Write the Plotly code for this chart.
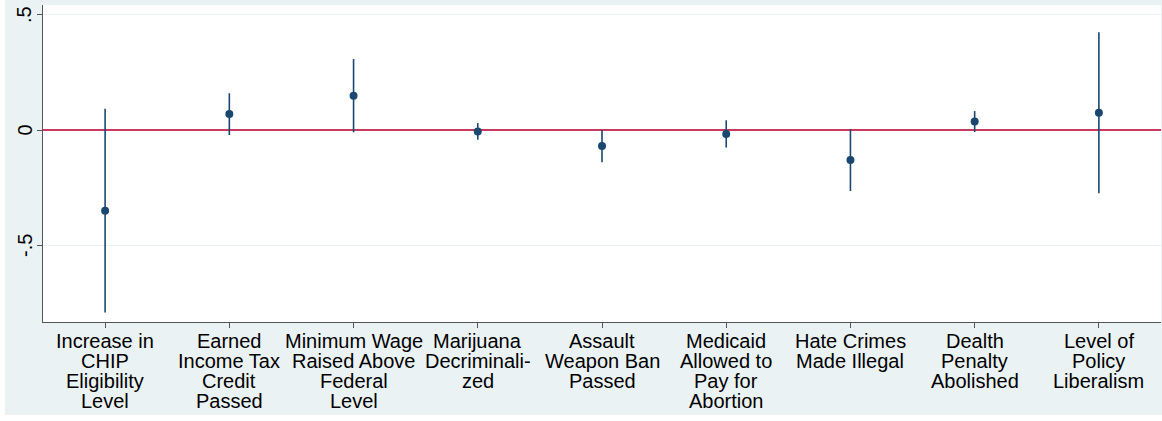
import plotly.graph_objects as go

# Policy outcomes (x categories) and estimated effects with 95% CIs
categories = [
    "Increase in\nCHIP\nEligibility\nLevel",
    "Earned\nIncome Tax\nCredit\nPassed",
    "Minimum Wage\nRaised Above\nFederal\nLevel",
    "Marijuana\nDecriminali-\nzed",
    "Assault\nWeapon Ban\nPassed",
    "Medicaid\nAllowed to\nPay for\nAbortion",
    "Hate Crimes\nMade Illegal",
    "Dealth\nPenalty\nAbolished",
    "Level of\nPolicy\nLiberalism",
]
positions = [1, 2, 3, 4, 5, 6, 7, 8, 9]
estimate = [-0.35, 0.069, 0.148, -0.006, -0.069, -0.017, -0.13, 0.037, 0.075]
ci_low = [-0.79, -0.022, -0.01, -0.042, -0.14, -0.076, -0.264, -0.009, -0.274]
ci_high = [0.092, 0.159, 0.307, 0.03, 0.0, 0.042, 0.002, 0.082, 0.423]

y_tickvals = [-0.5, 0, 0.5]
y_ticktext = ["-.5", "0", ".5"]

navy = "#1a476f"
bg = "#eaf2f3"
font = "Liberation Sans, Arial, Helvetica, sans-serif"

err_plus = [h - e for h, e in zip(ci_high, estimate)]
err_minus = [e - l for e, l in zip(estimate, ci_low)]

fig = go.Figure()
fig.add_trace(go.Scatter(
    x=positions, y=estimate, mode="markers",
    marker=dict(color=navy, size=8),
    error_y=dict(type="data", symmetric=False, array=err_plus,
                 arrayminus=err_minus, color=navy, thickness=1.6, width=0),
    showlegend=False,
))

W, H = 1162, 421
L, R, T, B = 43, 1, 5, 99
pw, ph = W - L - R, H - T - B

def px_x(v):
    return (v - L) / pw

def px_y(v):
    return (H - B - v) / ph

# thin white frame outside the shaded background (left and bottom)
fig.add_shape(type="rect", xref="paper", yref="paper", layer="below",
              x0=px_x(-2), x1=px_x(5), y0=px_y(-2), y1=px_y(H + 2),
              fillcolor="white", line=dict(width=0))
fig.add_shape(type="rect", xref="paper", yref="paper", layer="below",
              x0=px_x(-2), x1=px_x(W + 2), y0=px_y(415), y1=px_y(H + 2),
              fillcolor="white", line=dict(width=0))

# multi-line category labels under each tick, with tight line spacing
first_line_mid, line_step = 340.5, 20.3
for pos, label in zip(positions, categories):
    for j, line in enumerate(label.split("\n")):
        fig.add_annotation(
            x=pos, xref="x", y=px_y(first_line_mid + line_step * j), yref="paper",
            text=line, showarrow=False, xanchor="center", yanchor="middle",
            font=dict(family=font, size=20, color="black"),
        )

# vertical y tick labels set close to the tick marks
for val, txt in zip(y_tickvals, y_ticktext):
    fig.add_annotation(
        x=px_x(24.5), xref="paper", y=val, yref="y", text=txt,
        textangle=-90, showarrow=False, xanchor="center", yanchor="middle",
        font=dict(family=font, size=20, color="black"),
    )

fig.update_layout(
    width=W, height=H,
    margin=dict(l=L, r=R, t=T, b=B),
    paper_bgcolor=bg, plot_bgcolor="white",
    font=dict(family=font, size=20, color="black"),
)
fig.update_xaxes(
    range=[0.5, 9.5], tickvals=positions, showticklabels=False,
    ticks="outside", ticklen=5, tickcolor="#555", automargin=False,
    showline=True, linecolor="#555", linewidth=1.2, mirror=False,
    showgrid=False, zeroline=False,
)
# red reference line at zero drawn as the axis zeroline (beneath the markers)
fig.update_yaxes(
    range=[-0.831, 0.541], tickvals=y_tickvals, showticklabels=False,
    ticks="outside", ticklen=5, tickcolor="#555",
    showline=True, linecolor="#555", linewidth=1.2, automargin=False,
    showgrid=True, gridcolor=bg, gridwidth=1,
    zeroline=True, zerolinecolor="#c93a5e", zerolinewidth=2,
)

fig.write_html("out.html")
